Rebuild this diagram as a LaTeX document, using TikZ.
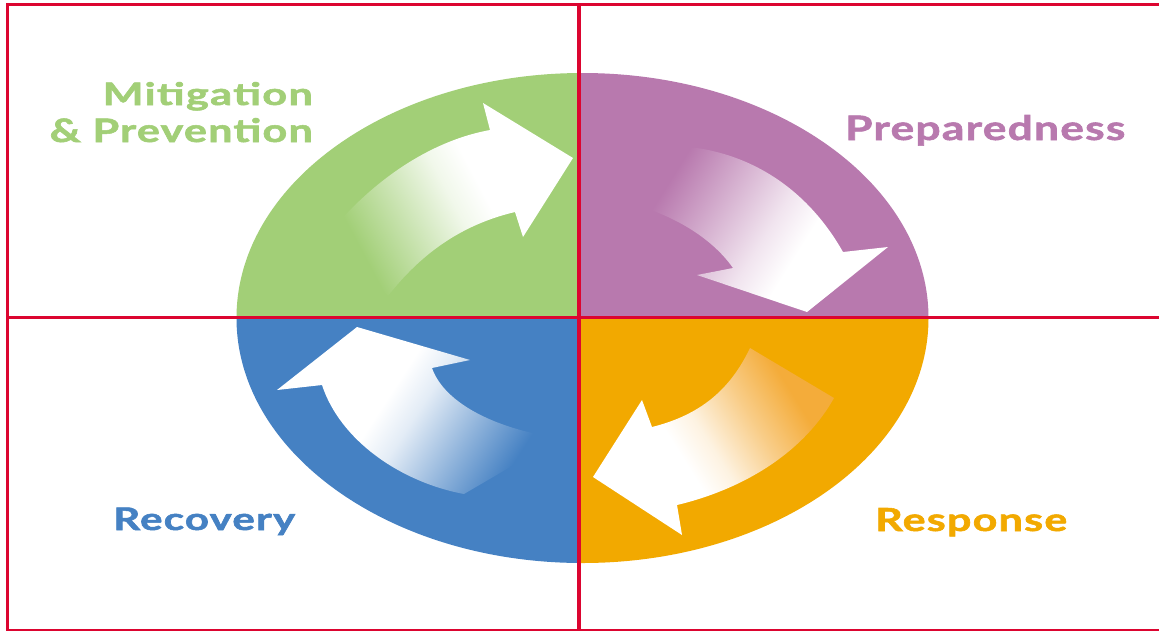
\documentclass[tikz,border=0pt]{standalone}
\usepackage{fontspec}
\setmainfont{Lato}
\usepackage{graphicx}
\definecolor{mgreen}{HTML}{A2CF77}
\definecolor{mpurple}{HTML}{B879AE}
\definecolor{mblue}{HTML}{4581C3}
\definecolor{morange}{HTML}{F2A900}
\definecolor{mlorange}{HTML}{F4AC3A}
\definecolor{fred}{HTML}{DC0530}
\pgfdeclareverticalshading{shG}{100bp}{color(0bp)=(mgreen); color(27bp)=(mgreen); color(38bp)=(white!40!mgreen); color(50bp)=(white!85!mgreen); color(57bp)=(white); color(100bp)=(white)}
\pgfdeclareverticalshading{shP}{100bp}{color(0bp)=(mpurple); color(29bp)=(mpurple); color(41bp)=(white!40!mpurple); color(53bp)=(white!80!mpurple); color(61bp)=(white); color(100bp)=(white)}
\pgfdeclareverticalshading{shB}{100bp}{color(0bp)=(mblue); color(27bp)=(mblue); color(38bp)=(white!40!mblue); color(50bp)=(white!85!mblue); color(57bp)=(white); color(100bp)=(white)}
\pgfdeclareverticalshading{shO}{100bp}{color(0bp)=(mlorange); color(29bp)=(mlorange); color(40bp)=(white!40!mlorange); color(51bp)=(white!85!mlorange); color(58bp)=(white); color(100bp)=(white)}
\begin{document}
\begin{tikzpicture}[x=1pt,y=-1pt,
  redline/.style={draw=fred, line width=3.2pt},
  lbl/.style={inner sep=0pt, font=\bfseries\addfontfeature{LetterSpace=3,FakeBold=1.6}},
  arrowshade/.style 2 args={shading=#1, shading angle=#2}]
\path[use as bounding box] (0,0) rectangle (1159,630);
\fill[white] (0,0) rectangle (1159,630);
% quadrant ellipse
\begin{scope}
\clip (582.5,318) ellipse [x radius=346pt, y radius=245pt];
\fill[mgreen] (200,50) rectangle (579,318);
\fill[mpurple] (579,50) rectangle (960,318);
\fill[mblue] (200,318) rectangle (579,600);
\fill[morange] (579,318) rectangle (960,600);
\end{scope}
% arrows
\shade[arrowshade={shG}{-62}] (330,232) .. controls (378,175) and (435,140) .. (490,130) -- (483,103) -- (573,158) -- (523,237) -- (515,212) .. controls (460,225) and (420,255) .. (388,296) -- cycle;
\shade[arrowshade={shP}{-122}] (678,146) .. controls (745,150) and (805,185) .. (843,252) -- (888,247) -- (807,312) -- (697,275) -- (733,268) .. controls (710,235) and (665,210) .. (618,201) -- cycle;
\shade[arrowshade={shB}{57}] (560,438) .. controls (500,430) and (445,405) .. (432,368) -- (470,360) -- (357,327) -- (277,390) -- (322,385) .. controls (340,440) and (400,482) .. (464,494) -- cycle;
\shade[arrowshade={shO}{122}] (750,348) .. controls (730,390) and (700,415) .. (652,427) -- (642,400) -- (593,477) -- (682,535) -- (677,505) .. controls (740,490) and (802,455) .. (834,398) -- cycle;
% red grid
\draw[redline] (7.3,4.5) rectangle (1170,631);
\draw[redline] (579,4.5) -- (579,631);
\draw[redline] (7.3,317.5) -- (1170,317.5);
% labels
\node[lbl, text=mgreen, anchor=base east] (mit) at (313,105) {\resizebox{210pt}{23pt}{Mitigation}};
\node[lbl, text=mgreen, anchor=base east] (prev) at (313,142) {\resizebox{263pt}{24pt}{\& Prevention}};
\node[lbl, text=mpurple, anchor=base west] (prep) at (845,140) {\resizebox{280pt}{25pt}{Preparedness}};
\node[lbl, text=mblue, anchor=base west] (rec) at (113,530) {\resizebox{182pt}{22.5pt}{Recovery}};
\node[lbl, text=morange, anchor=base west] (resp) at (875,531) {\resizebox{192pt}{23pt}{Response}};
\end{tikzpicture}
\end{document}
